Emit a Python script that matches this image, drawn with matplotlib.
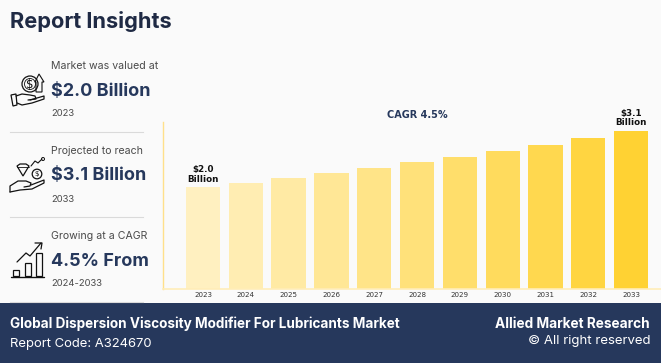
import numpy as np
from matplotlib import pyplot as plt
from matplotlib.colors import to_rgb
from matplotlib.patches import Circle, Rectangle, Polygon

# %% Data
years = [2023, 2024, 2025, 2026, 2027, 2028, 2029, 2030, 2031, 2032, 2033]
values = [2.0, 2.08, 2.17, 2.27, 2.37, 2.48, 2.59, 2.71, 2.82, 2.95, 3.1]
bar_labels = {2023: "$2.0\nBillion", 2033: "$3.1\nBillion"}

card_captions = ["Market was valued at", "Projected to reach", "Growing at a CAGR"]
card_values = ["$2.0 Billion", "$3.1 Billion", "4.5% From"]
card_years = ["2023", "2033", "2024-2033"]

NAVY = "#26385C"
INK = "#1F2A44"
BG = "#FAFAFA"
UI_FONT = ["Inter", "DejaVu Sans"]

W, H = 661, 363
fig = plt.figure(figsize=(W / 100, H / 100), dpi=100, facecolor=BG)

# %% Overlay in pixel coords for the card panel and the footer
pg = fig.add_axes([0, 0, 1, 1])
pg.set_xlim(0, W)
pg.set_ylim(H, 0)
pg.axis("off")

pg.add_patch(Rectangle((0, 303), W, 60, color=NAVY, lw=0))
for y in (132, 217, 302):
    pg.plot([10, 143], [y, y], color="#DADADA", lw=0.8)

pg.text(10, 21, "Report Insights", family=UI_FONT, fontsize=15.7,
        fontweight="bold", color=INK, va="center")

card_y = [66, 151, 236]
for y, cap, val, yr in zip(card_y, card_captions, card_values, card_years):
    pg.text(51, y, cap, family=UI_FONT, fontsize=7.6, color="#4A4A4A", va="center")
    pg.text(51, y + 25, val, family=UI_FONT, fontsize=13, fontweight="bold",
            color=NAVY, va="center")
    pg.text(51, y + 48, yr, family=UI_FONT, fontsize=6.8, color="#4A4A4A", va="center")


# %% Icons
def line(xs, ys, lw=0.9):
    pg.plot(xs, ys, color="#111111", lw=lw, solid_capstyle="round")


def coin(x, y, r, label="$"):
    pg.add_patch(Circle((x, y), r, fill=False, ec="#111111", lw=0.9))
    pg.text(x, y, label, fontsize=r * 1.05, ha="center", va="center", color="#111111")


# first card: cuffed hand, coin, up arrow
pg.add_patch(Polygon([[11, 95], [16, 94], [17, 105], [13, 106]],
                     fill=False, ec="#111111", lw=0.9))
line([16, 22, 30, 35, 36, 28], [96, 94, 95, 96, 99, 100])
line([30, 44, 44, 32, 22, 17], [100, 96, 99, 103, 105, 103])
coin(30, 84, 8)
pg.add_patch(Circle((30, 84), 5.5, fill=False, ec="#111111", lw=0.6))
pg.add_patch(Polygon([[36, 92], [36, 82], [35, 82], [39, 74], [44, 82], [42, 82], [42, 92]],
                     fill=False, ec="#111111", lw=0.8))

# second card: open hand, diamond, coin, squiggle arrow
line([10, 10, 18, 26, 31, 30, 24], [192, 186, 181, 181, 183, 186, 187])
line([31, 44, 44, 32, 20, 10], [185, 180, 183, 189, 190, 192])
coin(37, 174, 4.8)
pg.add_patch(Polygon([[17, 166], [20, 164], [26, 164], [29, 166], [23, 176]],
                     fill=False, ec="#111111", lw=0.9))
line([17, 29], [167, 167], lw=0.6)
line([31, 35, 38, 42], [166, 161, 163, 159], lw=0.8)
pg.add_patch(Circle((43, 159), 1.5, fill=False, ec="#111111", lw=0.7))

# third card: rising bars and arrow
line([11, 44], [276.5, 276.5], lw=1.0)
for bx, bt in zip((13, 25, 36), (270, 263, 253)):
    pg.add_patch(Rectangle((bx, bt), 6, 276 - bt, fill=False, ec="#111111", lw=0.9))
line([17, 26, 30, 41], [262, 253, 256, 243])
line([35, 42, 41], [243, 243, 249])

# %% Footer text
pg.text(10, 323.5, "Global Dispersion Viscosity Modifier For Lubricants Market",
        family=UI_FONT, fontsize=9.75, fontweight="bold", color="white", va="center")
pg.text(10, 343.5, "Report Code: A324670", family=UI_FONT, fontsize=9.4, color="white", va="center")
pg.text(650, 324, "Allied Market Research", family=UI_FONT, fontsize=9.85,
        fontweight="bold", color="white", ha="right", va="center")
pg.text(650, 341, "© All right reserved", family=UI_FONT, fontsize=9.5,
        color="white", ha="right", va="center")

# %% Bar chart
left, right, top, bottom = 162.5, 661, 122, 289.3
ax = fig.add_axes([left / W, 1 - bottom / H, (right - left) / W, (bottom - top) / H])
ax.patch.set_alpha(0)
x = np.arange(len(years))
c0, c1 = np.array(to_rgb("#FFF0C0")), np.array(to_rgb("#FFD233"))
for xi, v, t in zip(x, values, np.linspace(0, 1, len(years))):
    ax.bar(xi, v, width=0.8, color=c0 + (c1 - c0) * t, lw=0)

ax.set_xlim(-0.946, 10.7)
ax.set_ylim(0, 3.27)
ax.set_xticks(x, [str(y) for y in years], fontsize=5.1, color="#333333")
ax.tick_params(axis="x", length=0, pad=2.2)
ax.set_yticks([])
for s in ("top", "right"):
    ax.spines[s].set_visible(False)
ax.spines["left"].set_color("#FFE08A")
ax.spines["left"].set_linewidth(1.0)
ax.spines["bottom"].set_color("#FFEDB8")
ax.spines["bottom"].set_linewidth(1.2)

for xi, y, v in zip(x, years, values):
    if y in bar_labels:
        ax.annotate(bar_labels[y].replace("$", r"\$"), (xi, v), xytext=(0, 2.5),
                    textcoords="offset points", ha="center", va="bottom",
                    fontsize=6.3, fontweight="bold", color="#111111", linespacing=1.05)

pg.text(417, 115, "CAGR 4.5%", fontsize=7, fontweight="bold", color=NAVY,
        ha="center", va="center")

fig.savefig("out.png", dpi=100, facecolor=BG)
